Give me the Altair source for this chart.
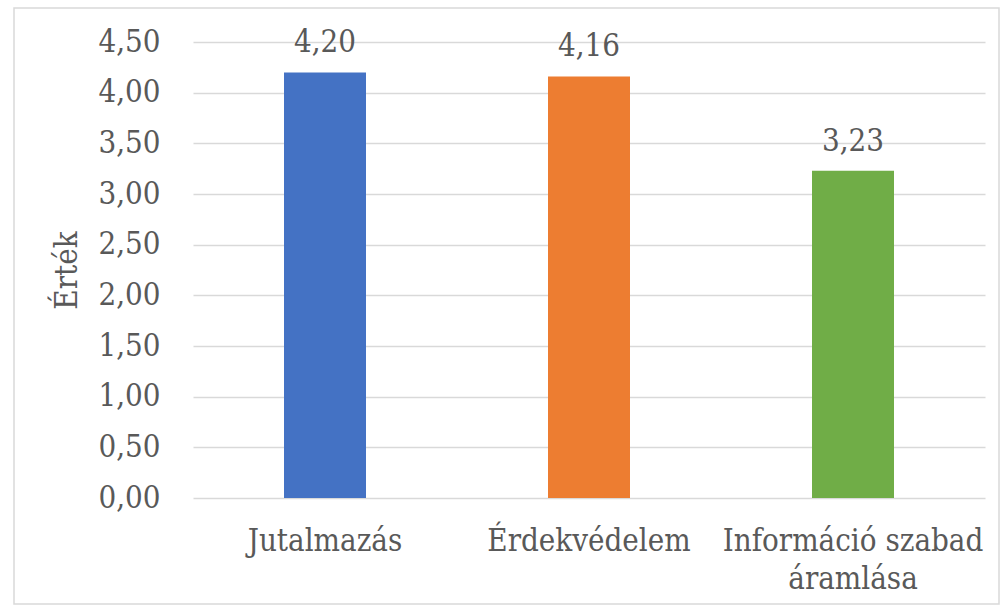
import altair as alt
import pandas as pd

categories = ["Jutalmazás", "Érdekvédelem", "Információ szabad áramlása"]
values = [4.20, 4.16, 3.23]
colors = ["#4472C4", "#ED7D31", "#70AD47"]
y_ticks = [0, 0.5, 1.0, 1.5, 2.0, 2.5, 3.0, 3.5, 4.0, 4.5]

df = pd.DataFrame({"kategoria": categories, "ertek": values, "szin": colors})
df["cimke"] = df["ertek"].map(lambda v: f"{v:.2f}".replace(".", ","))

FONT = "DejaVu Serif Condensed"
FS = 31
TXT = "#595959"

x_enc = alt.X(
    "kategoria:N",
    sort=categories,
    scale=alt.Scale(paddingInner=0, paddingOuter=0),
    axis=alt.Axis(
        title=None,
        domain=False,
        ticks=False,
        grid=False,
        labelAngle=0,
        labelFont=FONT,
        labelFontSize=FS,
        labelColor=TXT,
        labelPadding=28,
        labelLimit=0,
        labelOverlap=False,
        labelLineHeight=38,
        labelBaseline="top",
        labelExpr="datum.label == 'Információ szabad áramlása' ? ['Információ szabad', 'áramlása'] : datum.label",
    ),
)

y_enc = alt.Y(
    "ertek:Q",
    scale=alt.Scale(domain=[0, 4.5], nice=False, zero=True),
    axis=alt.Axis(
        values=y_ticks,
        title="Érték",
        titleFont=FONT,
        titleFontSize=FS,
        titleFontWeight="normal",
        titleColor=TXT,
        titleAngle=270,
        titleX=-126,
        titleY=228,
        titleAlign="center",
        titleBaseline="middle",
        domain=False,
        ticks=False,
        grid=True,
        gridColor="#d9d9d9",
        gridWidth=1.3,
        labelFont=FONT,
        labelFontSize=FS,
        labelColor=TXT,
        labelPadding=33,
        labelBaseline="middle",
        labelExpr="replace(format(datum.value, '.2f'), '.', ',')",
    ),
)

bars = alt.Chart(df).mark_bar(size=82).encode(
    x=x_enc,
    y=y_enc,
    color=alt.Color("szin:N", scale=None),
)

labels = alt.Chart(df).mark_text(
    font=FONT, fontSize=FS, color=TXT, baseline="alphabetic", dy=-20
).encode(
    x=alt.X("kategoria:N", sort=categories),
    y=alt.Y("ertek:Q"),
    text="cimke:N",
)

frame = alt.Chart(pd.DataFrame({"a": [0]})).mark_rect(
    fill=None, stroke="#d9d9d9", strokeWidth=1.5
).encode(
    x=alt.value(-179), x2=alt.value(806), y=alt.value(-34), y2=alt.value(562)
)

chart = alt.layer(frame, bars, labels).properties(
    width=792,
    height=456,
    autosize=alt.AutoSizeParams(type="none"),
    padding={"left": 193, "top": 42, "right": 16, "bottom": 115},
    background="white",
).configure_view(stroke=None)

chart.save("out.html", embed_options={"renderer": "svg", "actions": False})
